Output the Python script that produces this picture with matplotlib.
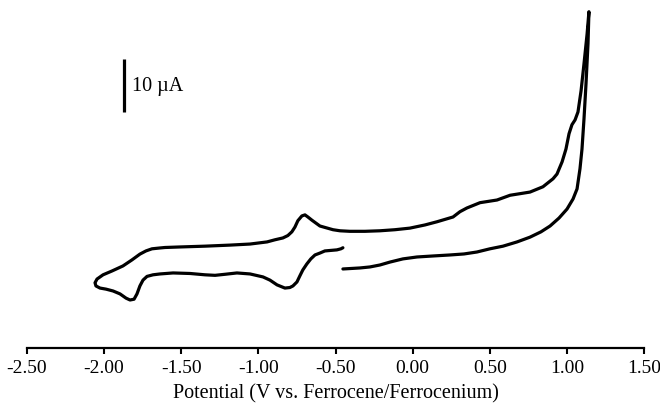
"""Cyclic voltammogram vs. Fc/Fc+ with a 10 uA scale bar."""

import matplotlib
matplotlib.use("Agg")
import matplotlib.pyplot as plt
import numpy as np

# forward scan: start at -0.45 V, sweep positive to the anodic limit
fwd_potential = [-0.452, -0.342, -0.277, -0.212, -0.147, -0.063, 0.028, 0.132,
                 0.242, 0.333, 0.417, 0.501, 0.586, 0.677, 0.761, 0.832,
                 0.891, 0.949, 1.001, 1.040, 1.066, 1.085, 1.098, 1.111,
                 1.124, 1.137, 1.143]
fwd_current = [0.0, 0.19, 0.38, 0.75, 1.3, 1.9, 2.26, 2.45,
               2.64, 2.83, 3.2, 3.8, 4.3, 5.1, 6.0, 7.0,
               8.1, 9.6, 11.3, 13.2, 15.1, 18.9, 22.6, 28.3,
               34.9, 42.5, 48.5]

# reverse scan: back from the anodic limit down to -2.05 V
rev_potential = [1.131, 1.111, 1.092, 1.072, 1.053, 1.033, 1.014, 0.994,
                 0.969, 0.936, 0.910, 0.845, 0.761, 0.697, 0.632, 0.547,
                 0.437, 0.352, 0.307, 0.262, 0.158, 0.080, -0.018, -0.115,
                 -0.212, -0.309, -0.407, -0.471, -0.516, -0.601, -0.653,
                 -0.679, -0.698, -0.718, -0.744, -0.763, -0.783, -0.809,
                 -0.841, -0.893, -0.944, -1.054, -1.184, -1.346, -1.508,
                 -1.605, -1.638, -1.690, -1.729, -1.768, -1.820, -1.878,
                 -1.949, -2.007, -2.046, -2.059, -2.053]
rev_current = [44.3, 38.7, 33.6, 29.6, 28.1, 27.2, 25.5, 22.6,
               20.2, 17.9, 17.0, 15.5, 14.5, 14.2, 13.9, 13.0,
               12.5, 11.5, 10.8, 9.8, 8.9, 8.3, 7.7, 7.4,
               7.2, 7.1, 7.1, 7.2, 7.4, 8.1, 9.2,
               9.8, 10.2, 10.0, 9.1, 7.9, 7.0, 6.3,
               5.85, 5.5, 5.1, 4.7, 4.5, 4.3, 4.15,
               4.05, 3.96, 3.8, 3.4, 2.8, 1.7, 0.57,
               -0.38, -1.1, -1.9, -2.6, -3.2]

# return sweep: from the cathodic limit back up to -0.45 V
ret_potential = [-2.027, -1.988, -1.942, -1.897, -1.858, -1.832, -1.806,
                 -1.787, -1.768, -1.748, -1.722, -1.683, -1.638, -1.553,
                 -1.443, -1.346, -1.281, -1.216, -1.139, -1.054, -0.970,
                 -0.925, -0.879, -0.828, -0.796, -0.776, -0.750, -0.731,
                 -0.712, -0.686, -0.660, -0.633, -0.601, -0.569, -0.530,
                 -0.491, -0.465, -0.452]
ret_current = [-3.6, -3.8, -4.15, -4.7, -5.5, -5.85, -5.7,
               -4.7, -3.2, -2.1, -1.4, -1.1, -0.94, -0.75,
               -0.85, -1.1, -1.2, -1.0, -0.75, -0.94, -1.5,
               -2.1, -3.0, -3.6, -3.5, -3.2, -2.45, -1.3,
               -0.19, 0.94, 1.9, 2.64, 3.0, 3.4, 3.5,
               3.6, 3.8, 4.0]

x_ticks = [-2.5, -2.0, -1.5, -1.0, -0.5, 0.0, 0.5, 1.0, 1.5]
scale_bar = 10.0  # uA

plt.rcParams["font.family"] = ["Liberation Serif", "DejaVu Serif"]

potential = np.array(fwd_potential + rev_potential + ret_potential)
current = np.array(fwd_current + rev_current + ret_current)

fig = plt.figure(figsize=(6.6, 4.06), dpi=100)
ax = fig.add_axes([27 / 660, 57 / 406, 617 / 660, 349 / 406])

ax.plot(potential, current, color="black", linewidth=2.3,
        solid_joinstyle="round", solid_capstyle="round")

# scale bar in place of a y axis
ax.plot([-1.872, -1.872], [29.6, 29.6 + scale_bar], color="black",
        linewidth=2.3, solid_capstyle="butt")
ax.text(-1.82, 29.6 + scale_bar / 2, "10 \u00b5A", fontsize=14.5,
        ha="left", va="center")

ax.set_xlim(-2.5, 1.5)
ax.set_ylim(-14.9, 50.9)
ax.set_xticks(x_ticks)
ax.set_xticklabels([f"{t:.2f}" for t in x_ticks], fontsize=14)
ax.set_yticks([])
ax.tick_params(axis="x", direction="out", length=4, width=1.5, pad=4)
for side in ("left", "right", "top"):
    ax.spines[side].set_visible(False)
ax.spines["bottom"].set_linewidth(1.6)
ax.set_xlabel("Potential (V vs. Ferrocene/Ferrocenium)", fontsize=14.5,
              labelpad=5)

fig.savefig("out.png", dpi=100)
plt.close(fig)
